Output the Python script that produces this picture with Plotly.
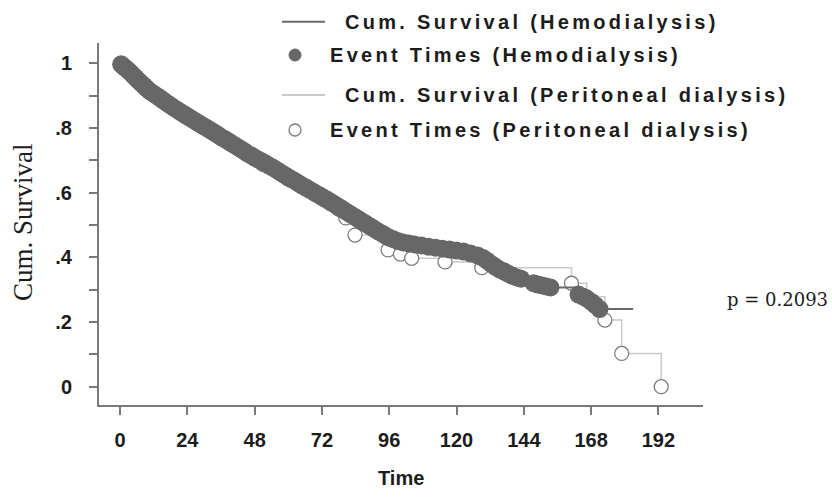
import plotly.graph_objects as go

# Kaplan-Meier estimates: event times (months) and cumulative survival after each event
hd_time = [0.4, 1.2, 2.0, 2.9, 3.8, 4.7, 5.6, 6.5, 7.5, 8.5, 9.5, 10.6, 11.8, 13.0, 14.2,
           15.5, 16.8, 18.0, 19.3, 20.6, 21.9, 23.2, 24.5, 25.8, 27.1, 28.4, 29.7, 31.0,
           32.3, 33.6, 34.9, 36.2, 37.5, 38.8, 40.1, 41.4, 42.7, 44.0, 45.3, 46.6, 47.9,
           49.2, 50.5, 51.8, 53.1, 54.4, 55.7, 57.0, 58.3, 59.6, 60.9, 62.2, 63.5, 64.8,
           66.1, 67.4, 68.7, 70.0, 71.3, 72.6, 73.9, 75.2, 76.5, 77.8, 79.1, 80.4, 81.7,
           83.0, 84.3, 85.6, 86.9, 88.2, 89.5, 90.8, 92.1, 93.4, 94.7, 96.0, 97.5, 99.0,
           101.0, 103.0, 105.0, 107.5, 110.0, 112.5, 115.0, 117.5, 120.0, 122.5, 125.0,
           127.5, 129.5, 131.0, 132.5, 134.0, 135.5, 137.0, 138.5, 140.0, 141.5, 143.0,
           147.5, 149.0, 150.5, 152.0, 153.5, 163.5, 165.0, 166.5, 168.0, 169.5, 171.0]
hd_surv = [0.997, 0.991, 0.985, 0.978, 0.971, 0.963, 0.955, 0.947, 0.939, 0.931, 0.923,
           0.914, 0.907, 0.900, 0.893, 0.885, 0.877, 0.870, 0.862, 0.855, 0.848, 0.841,
           0.834, 0.827, 0.820, 0.813, 0.806, 0.800, 0.793, 0.786, 0.779, 0.771, 0.765,
           0.758, 0.751, 0.744, 0.737, 0.730, 0.722, 0.716, 0.709, 0.703, 0.697, 0.691,
           0.684, 0.678, 0.671, 0.664, 0.657, 0.650, 0.643, 0.637, 0.630, 0.623, 0.617,
           0.610, 0.604, 0.597, 0.591, 0.584, 0.578, 0.571, 0.564, 0.557, 0.550, 0.543,
           0.536, 0.529, 0.522, 0.515, 0.508, 0.501, 0.494, 0.487, 0.480, 0.474, 0.467,
           0.461, 0.456, 0.451, 0.446, 0.443, 0.440, 0.437, 0.433, 0.430, 0.427, 0.424,
           0.421, 0.418, 0.412, 0.406, 0.398, 0.389, 0.379, 0.370, 0.362, 0.356, 0.349,
           0.343, 0.338, 0.334, 0.320, 0.316, 0.313, 0.310, 0.307, 0.285, 0.279, 0.272,
           0.263, 0.252, 0.240]
hd_last_followup = 183

pd_time = [0.8, 3.0, 6.0, 9.0, 12.0, 15.0, 18.0, 21.0, 24.0, 27.0, 30.0, 33.0, 36.0,
           39.0, 42.0, 45.0, 48.0, 51.0, 54.0, 57.0, 60.0, 63.0, 66.0, 69.0, 72.0, 75.0,
           78.0, 80.5, 83.8, 95.6, 100.0, 104.0, 115.9, 129.0, 161.0, 166.4,
           172.9, 178.9, 193.0]
pd_surv = [0.993, 0.972, 0.947, 0.923, 0.902, 0.884, 0.866, 0.849, 0.833, 0.817, 0.801,
           0.786, 0.768, 0.753, 0.737, 0.720, 0.705, 0.688, 0.676, 0.660, 0.643, 0.629,
           0.613, 0.598, 0.583, 0.567, 0.549, 0.522, 0.469, 0.423, 0.410,
           0.397, 0.386, 0.368, 0.320, 0.278, 0.206, 0.103, 0.0]

x_tick_vals = [0, 24, 48, 72, 96, 120, 144, 168, 192]
y_tick_vals = [0, 0.2, 0.4, 0.6, 0.8, 1.0]
y_tick_text = ["0", ".2", ".4", ".6", ".8", "1"]
p_value = 0.2093

W, H = 832, 498
ML, MR, MT, MB = 99, 129, 43, 93
HD_LINE = "#6a6a6a"
HD_DOT = "#676767"
PD_LINE = "#c9c9c9"
PD_RING = "#7c7c7c"
AXIS = "#7a7a7a"
TEXT = "#1c1c1c"
SANS = "Liberation Sans"


def px(x):
    return (x - ML) / (W - ML - MR)


def py(y):
    return (H - MB - y) / (H - MT - MB)


fig = go.Figure()

# Peritoneal dialysis: step curve and event markers (drawn underneath)
fig.add_trace(go.Scatter(
    x=[0] + pd_time, y=[1.0] + pd_surv, mode="lines", line_shape="hv",
    line=dict(color=PD_LINE, width=1.5), hoverinfo="skip", showlegend=False))
fig.add_trace(go.Scatter(
    x=pd_time, y=pd_surv, mode="markers",
    marker=dict(symbol="circle", size=14, color="white",
                line=dict(color=PD_RING, width=1.3)),
    showlegend=False))

# Hemodialysis: step curve with censored tail, then event markers
fig.add_trace(go.Scatter(
    x=[0] + hd_time + [hd_last_followup], y=[1.0] + hd_surv + [hd_surv[-1]],
    mode="lines", line_shape="hv", line=dict(color=HD_LINE, width=2),
    hoverinfo="skip", showlegend=False))
fig.add_trace(go.Scatter(
    x=hd_time, y=hd_surv, mode="markers",
    marker=dict(symbol="circle", size=18, color=HD_DOT, line=dict(width=0)),
    showlegend=False))

annotations = []
shapes = []


def legend_text(x, y, text):
    annotations.append(dict(
        x=px(x), y=py(y), xref="paper", yref="paper", xanchor="left", yanchor="middle",
        showarrow=False,
        text="<span style='letter-spacing:3.3px'>" + text + "</span>",
        font=dict(family=SANS, size=20, color=TEXT, weight="bold")))


# Legend rows
shapes.append(dict(type="line", xref="paper", yref="paper",
                   x0=px(282), x1=px(325), y0=py(21.7), y1=py(21.7),
                   line=dict(color=HD_LINE, width=2)))
legend_text(343, 21.7, "Cum. Survival (Hemodialysis)")
shapes.append(dict(type="circle", xref="paper", yref="paper",
                   x0=px(289), x1=px(301), y0=py(49), y1=py(61),
                   fillcolor=HD_DOT, line=dict(color=HD_DOT, width=1)))
legend_text(328, 55, "Event Times (Hemodialysis)")
shapes.append(dict(type="line", xref="paper", yref="paper",
                   x0=px(282), x1=px(325), y0=py(95), y1=py(95),
                   line=dict(color=PD_LINE, width=2)))
legend_text(343, 95, "Cum. Survival (Peritoneal dialysis)")
shapes.append(dict(type="circle", xref="paper", yref="paper",
                   x0=px(289), x1=px(301), y0=py(124), y1=py(136),
                   fillcolor="white", line=dict(color=PD_RING, width=1.3)))
legend_text(328, 130, "Event Times (Peritoneal dialysis)")

# Axis titles and test statistic
annotations.append(dict(
    x=px(401), y=py(478), xref="paper", yref="paper", xanchor="center",
    yanchor="middle", showarrow=False,
    text="Time", font=dict(family=SANS, size=20, color=TEXT, weight="bold")))
annotations.append(dict(
    x=px(23), y=py(222), xref="paper", yref="paper", xanchor="center",
    yanchor="middle", showarrow=False, textangle=-90,
    text="Cum. Survival", font=dict(family="Liberation Serif", size=27, color=TEXT)))
annotations.append(dict(
    x=px(830), y=py(299), xref="paper", yref="paper", xanchor="right",
    yanchor="middle", showarrow=False,
    text=f"p = {p_value:.4f}", font=dict(family="DejaVu Serif", size=18, color=TEXT)))

fig.update_layout(
    width=W, height=H, margin=dict(l=ML, r=MR, t=MT, b=MB),
    paper_bgcolor="white", plot_bgcolor="white",
    showlegend=False, annotations=annotations, shapes=shapes,
    xaxis=dict(range=[-7.5, 207.9], tickvals=x_tick_vals, showgrid=False, zeroline=False,
               showline=True, linecolor=AXIS, linewidth=2, ticks="outside", ticklen=8,
               tickwidth=2, tickcolor=AXIS, ticklabelstandoff=8,
               tickfont=dict(family=SANS, size=20, color=TEXT, weight="bold")),
    yaxis=dict(range=[-0.0566, 1.063], tickvals=y_tick_vals, ticktext=y_tick_text,
               showgrid=False, zeroline=False, showline=True, linecolor=AXIS, linewidth=2,
               ticks="outside", ticklen=8, tickwidth=2, tickcolor=AXIS,
               ticklabelstandoff=13,
               minor=dict(tickvals=[0.1, 0.3, 0.5, 0.7, 0.9], ticks="outside", ticklen=8,
                          tickwidth=2, tickcolor=AXIS),
               tickfont=dict(family=SANS, size=20, color=TEXT, weight="bold")),
)

fig.write_html("out.html")
